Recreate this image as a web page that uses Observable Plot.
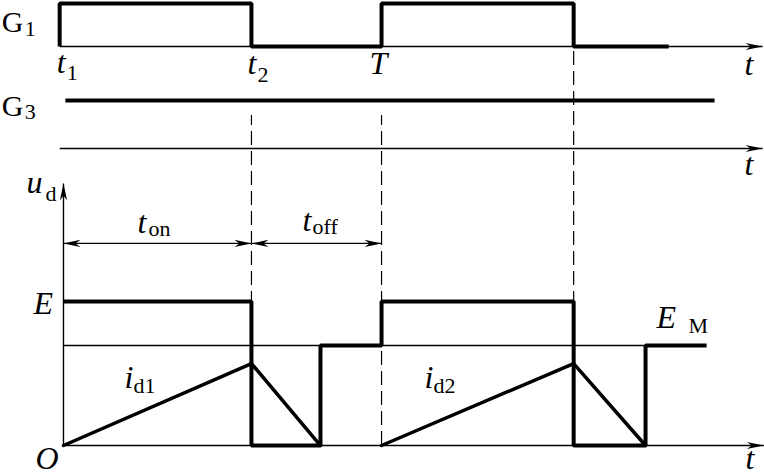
<!DOCTYPE html>
<html><head><meta charset="utf-8">
<script src="https://cdn.jsdelivr.net/npm/d3@7"></script>
<script src="https://cdn.jsdelivr.net/npm/@observablehq/plot@0.6"></script>
<style>body{margin:0;background:#fff} svg{display:block;background:#fff}</style>
</head><body><div id="chart"></div>
<script>
// ---- data (time in units of the period T; levels in units of E) ----
const g1Times  = [-0.012, -0.012, 0.591, 1.0, 1.604, 1.903];
const g1Levels = [0, 1, 0, 1, 0, 0];
const g3Times  = [0.006, 2.047];
const g3Levels = [1, 1];
const udTimes  = [0, 0.591, 0.808, 1.0, 1.604, 1.830, 2.022];
const udLevels = [1, 0, 0.694, 1, 0, 0.694, 0.694];
const id1Times = [0, 0.591, 0.808];
const id1Levels = [0, 0.569, 0];
const id2Times = [1.0, 1.604, 1.830];
const id2Levels = [0, 0.569, 0];
const EM_LEVEL = 0.694;
const EM_END = 1.830;
const dashTimes = [0.591, 1.0, 1.604];
const dimSpans = [[0, 0.591], [0.591, 1.0]];
const axisEnd = 2.198;

// ---- layout ----
const G1_BASE = 2.771, G1_AMP = 0.2986;
const G3_BASE = 2.0625, G3_AMP = 0.3333;
const DIM_Y = 1.403, UD_TOP = 1.82;
const dashTops = [2.292, 2.292, 2.757];

const g1 = g1Times.map((t, i) => ({t, v: G1_BASE + G1_AMP * g1Levels[i]}));
const g3 = g3Times.map((t, i) => ({t, v: G3_BASE + G3_AMP * g3Levels[i]}));
const ud = udTimes.map((t, i) => ({t, v: udLevels[i]}));
const id1 = id1Times.map((t, i) => ({t, v: id1Levels[i]}));
const id2 = id2Times.map((t, i) => ({t, v: id2Levels[i]}));
const dashes = dashTimes.map((t, i) => ({t, top: dashTops[i]}));

const axes = [
  {x1: g1Times[0], y1: G1_BASE, x2: axisEnd, y2: G1_BASE, rot: 0},
  {x1: g1Times[0], y1: G3_BASE, x2: axisEnd, y2: G3_BASE, rot: 0},
  {x1: 0, y1: 0, x2: axisEnd + 0.004, y2: 0, rot: 0},
  {x1: 0, y1: 0, x2: 0, y2: UD_TOP, rot: -90}
];
const dims = dimSpans.map(([a, b]) => ({x1: a, x2: b, y: DIM_Y}));
const heads = [
  ...axes.map(a => ({x: a.x2, y: a.y2, rot: a.rot})),
  ...dimSpans.flatMap(([a, b]) => [{x: a, y: DIM_Y, rot: 180}, {x: b, y: DIM_Y, rot: 0}])
];

// filled swallow-tail arrow head, tip at origin pointing right
const headSymbol = {
  draw(ctx) {
    ctx.moveTo(0, 0);
    ctx.lineTo(-17, -3.6);
    ctx.lineTo(-12, 0);
    ctx.lineTo(-17, 3.6);
    ctx.closePath();
  }
};

const FONT = "Liberation Serif";
const MAIN = 32, SUB = 22;
const labels = [
  // main, sub, anchor x, anchor y, main dx, dy, sub dx, dy, italic main, main size
  ["G", "1", g1Times[0], G1_BASE, -58, -14, -35, -10, false, 30],
  ["G", "3", g1Times[0], G3_BASE, -58, -33, -35, -30, false, 30],
  ["t", "1", g1Times[0], G1_BASE, -3, 27, 7, 34, true, MAIN],
  ["t", "2", dashTimes[0], G1_BASE, -4, 28, 6, 36, true, MAIN],
  ["T", "", dashTimes[1], G1_BASE, -12, 28, 0, 0, true, MAIN],
  ["t", "", axisEnd, G1_BASE, -18, 29, 0, 0, true, MAIN],
  ["t", "", axisEnd, G3_BASE, -18, 26, 0, 0, true, MAIN],
  ["t", "", axisEnd, 0, -17, 23, 0, 0, true, MAIN],
  ["u", "d", 0, UD_TOP, -37, 10, -18, 18, true, MAIN],
  ["t", "on", 0, DIM_Y, 74, -10, 85, -7, true, MAIN],
  ["t", "off", dashTimes[0], DIM_Y, 51, -12, 61, -9, true, MAIN],
  ["E", "", 0, 1, -30, 12, 0, 0, true, MAIN],
  ["O", "", 0, 0, -28, 23, 0, 0, true, MAIN],
  ["i", "d1", 0, 0, 61, -58, 70, -53, true, MAIN],
  ["i", "d2", 1.0, 0, 43, -58, 52, -53, true, MAIN],
  ["E", "M", EM_END, EM_LEVEL, 11, -18, 43, -13, true, MAIN]
].map(([main, sub, x, y, mdx, mdy, sdx, sdy, it, size]) => ({main, sub, x, y, mdx, mdy, sdx, sdy, it, size}));

const textMarks = labels.flatMap(l => {
  const m = [Plot.text([l], {x: "x", y: "y", text: "main", dx: l.mdx, dy: l.mdy,
    textAnchor: "start", lineAnchor: "bottom", fontFamily: FONT, fontSize: l.size,
    fontStyle: l.it ? "italic" : "normal", fill: "black"})];
  if (l.sub) m.push(Plot.text([l], {x: "x", y: "y", text: "sub", dx: l.sdx, dy: l.sdy,
    textAnchor: "start", lineAnchor: "bottom", fontFamily: FONT, fontSize: SUB, fill: "black"}));
  return m;
});

const thick = 4, thin = 1.4;
const chart = Plot.plot({
  width: 764, height: 475,
  marginTop: 0, marginRight: 0, marginBottom: 0, marginLeft: 0,
  x: {domain: [-0.198, 2.204], axis: null},
  y: {domain: [-0.2083, 3.0903], axis: null},
  style: {background: "white"},
  marks: [
    Plot.ruleX(dashes, {x: "t", y1: 0, y2: "top", stroke: "black", strokeWidth: 1.2, strokeDasharray: "14,6"}),
    Plot.ruleY([EM_LEVEL], {x1: 0, x2: EM_END, stroke: "black", strokeWidth: thin}),
    Plot.link(axes, {x1: "x1", y1: "y1", x2: "x2", y2: "y2", stroke: "black", strokeWidth: thin}),
    Plot.link(dims, {x1: "x1", x2: "x2", y1: "y", y2: "y", stroke: "black", strokeWidth: 1.2}),
    Plot.dot(heads, {x: "x", y: "y", rotate: "rot", symbol: headSymbol, fill: "black", stroke: "none"}),
    Plot.line(g1, {x: "t", y: "v", curve: "step-after", stroke: "black", strokeWidth: thick, strokeLinejoin: "miter", strokeLinecap: "butt"}),
    Plot.line(g3, {x: "t", y: "v", stroke: "black", strokeWidth: thick, strokeLinecap: "butt"}),
    Plot.line(ud, {x: "t", y: "v", curve: "step-after", stroke: "black", strokeWidth: thick, strokeLinejoin: "miter", strokeLinecap: "butt"}),
    Plot.line(id1, {x: "t", y: "v", stroke: "black", strokeWidth: 3.5, strokeLinejoin: "miter"}),
    Plot.line(id2, {x: "t", y: "v", stroke: "black", strokeWidth: 3.5, strokeLinejoin: "miter"}),
    ...textMarks
  ]
});
document.getElementById("chart").appendChild(chart);
</script>
</body></html>
